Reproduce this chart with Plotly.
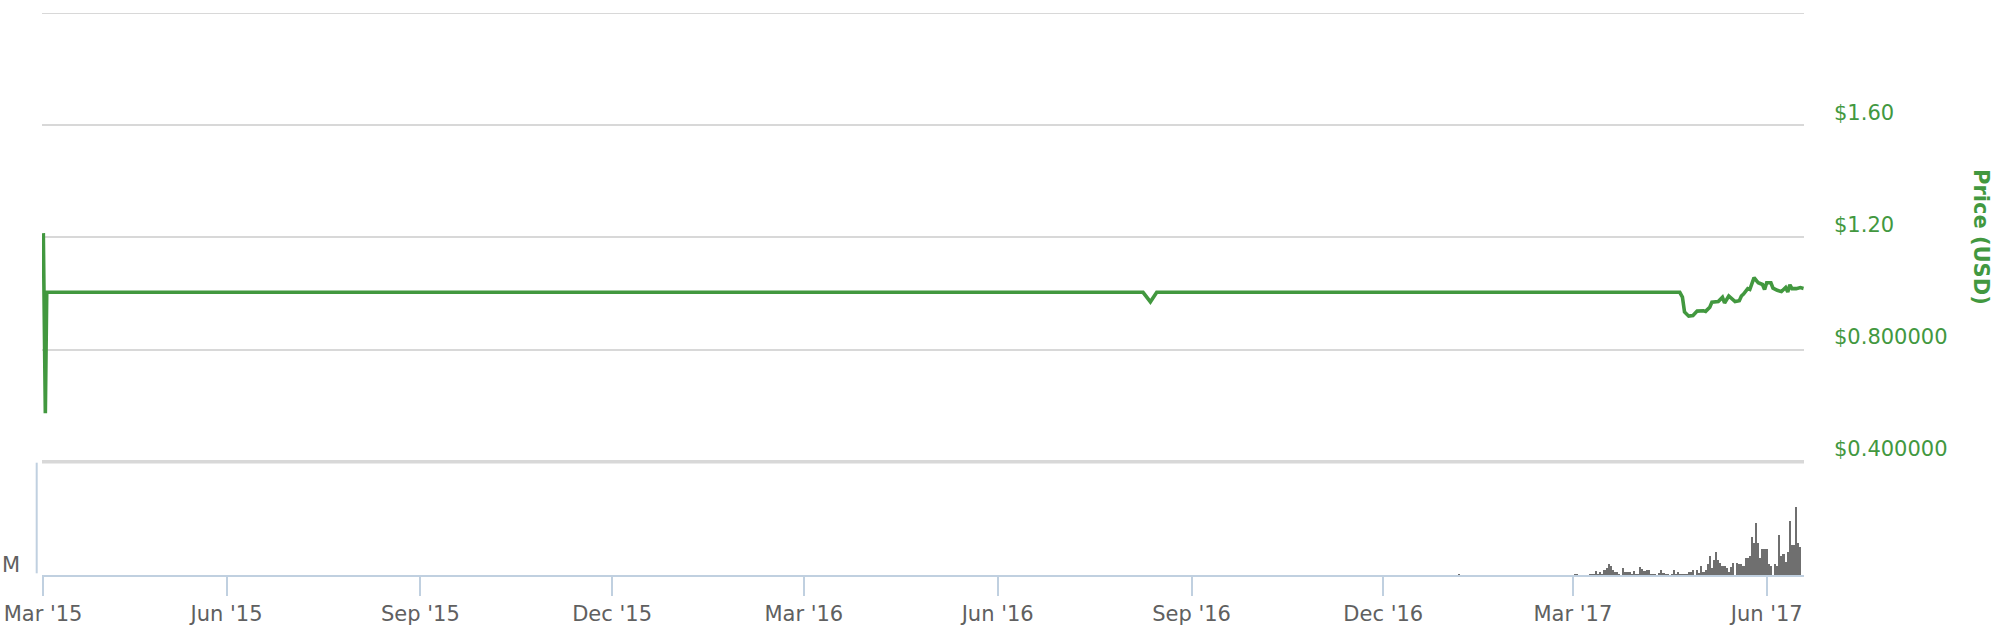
import plotly.graph_objects as go
import pandas as pd

# ---------------- data ----------------
price_dates = [
    "2015-03-06 01:00", "2015-03-07 00:00", "2015-03-07 16:00",
    "2016-08-09 00:00", "2016-08-12 12:00", "2016-08-15 12:00",
    "2017-04-20 18:00", "2017-04-22", "2017-04-23", "2017-04-25", "2017-04-27",
    "2017-04-29", "2017-05-02", "2017-05-03", "2017-05-05", "2017-05-06",
    "2017-05-09", "2017-05-11", "2017-05-12", "2017-05-14", "2017-05-17",
    "2017-05-19", "2017-05-20", "2017-05-21", "2017-05-23", "2017-05-24",
    "2017-05-26", "2017-05-28", "2017-05-30", "2017-05-31", "2017-06-01",
    "2017-06-03", "2017-06-04", "2017-06-06", "2017-06-08", "2017-06-10",
    "2017-06-11", "2017-06-12", "2017-06-13", "2017-06-15", "2017-06-17",
    "2017-06-18 12:00",
]
price_usd = [
    1.215, 0.573, 1.004,
    1.004, 0.970, 1.004,
    1.004, 0.987, 0.934, 0.919, 0.921,
    0.937, 0.938, 0.936, 0.951, 0.969,
    0.971, 0.986, 0.966, 0.991, 0.971,
    0.974, 0.991, 0.998, 1.017, 1.014,
    1.056, 1.038, 1.032, 1.014, 1.038,
    1.038, 1.019, 1.011, 1.007, 1.021,
    1.005, 1.031, 1.017, 1.017, 1.021,
    1.018,
]

# volume (millions USD): one tiny bar in Jan 2017, then daily from 1 Mar 2017
vol_jan_dates = ["2017-01-06"]
vol_jan_values = [2.6]
vol_daily_start = "2017-03-01"
vol_daily_values = [
    # March 2017
    0, 2.6, 2.6, 0, 0, 0, 0, 0, 2.6, 2.6, 2.6, 9.4, 2.6, 7.4, 2.6, 10.6,
    14, 22, 18, 10, 7.4, 7.4, 2.6, 0, 14, 7.4, 7.4, 7.4, 2.6, 9.4, 2.6,
    # April 2017
    2.6, 16, 12.6, 8.6, 11.4, 11.4, 2.6, 2.6, 2.6, 0, 4, 10, 5.4, 2.6, 2.6,
    0, 2.6, 10.6, 2.6, 6.6, 2.6, 2.6, 2.6, 2.6, 6.6, 6.6, 10, 0, 10, 4,
    # May 2017
    18.6, 7.4, 10.6, 22, 38.6, 14, 30.6, 46.6, 30.6, 23.4, 18.6, 18.6, 14,
    7.4, 17.4, 23.4, 0, 24, 22.6, 22.6, 18.6, 34.6, 34.6, 38.6, 75.4, 63.4,
    103.4, 63.4, 34.6, 51.4, 51.4,
    # June 2017
    51.4, 22.6, 18.6, 0, 22.6, 18.6, 79.4, 38.6, 42.6, 26.6, 46.6, 107.4,
    59.4, 59.4, 135.4, 63.4, 55.4,
]
vol_dates = vol_jan_dates + list(
    pd.date_range(vol_daily_start, periods=len(vol_daily_values), freq="D").strftime("%Y-%m-%d")
)
vol_values = vol_jan_values + vol_daily_values

x_tick_vals = ["2015-03-05 22:00", "2015-06-01", "2015-09-01", "2015-12-01",
               "2016-03-01", "2016-06-01", "2016-09-01", "2016-12-01",
               "2017-03-01", "2017-06-01"]
x_tick_text = ["Mar '15", "Jun '15", "Sep '15", "Dec '15", "Mar '16", "Jun '16",
               "Sep '16", "Dec '16", "Mar '17", "Jun '17"]
price_tick_vals = [0.4, 0.8, 1.2, 1.6, 2.0]
price_tick_text = ["$0.400000", "$0.800000", "$1.20", "$1.60", ""]

# ---------------- style ----------------
GREEN = "#42983f"
AXIS = "#c0d0e0"
GRID = "#d8d8d8"
TXT = "#606060"
FONT = "DejaVu Sans"
FS = 21

W, H = 2008, 626
# plot area in page pixels: x 42..1804, y 13..575
ML, MT = 42, 13
MR = W - 1804
MB = H - 575
PW, PH = W - ML - MR, H - MT - MB


def px_x(px):  # page pixel -> paper x
    return (px - ML) / PW


def px_y(py):  # page pixel -> paper y
    return (H - MB - py) / PH


split = px_y(461.7)  # price/volume boundary

fig = go.Figure()
fig.add_trace(go.Bar(
    x=vol_dates, y=vol_values, xaxis="x", yaxis="y2",
    marker=dict(color="#6f6f6f", line=dict(width=0)),
    name="Volume", hoverinfo="x+y",
))
fig.add_trace(go.Scatter(
    x=price_dates, y=price_usd, xaxis="x", yaxis="y",
    mode="lines", line=dict(color=GREEN, width=3.6),
    name="Price (USD)",
))

fig.update_layout(
    width=W, height=H,
    margin=dict(l=ML, r=MR, t=MT, b=MB, autoexpand=False),
    paper_bgcolor="white", plot_bgcolor="white",
    showlegend=False, bargap=0,
    font=dict(family=FONT, color=TXT, size=FS),
    xaxis=dict(
        type="date", anchor="y2", automargin=False,
        range=["2015-03-05 10:00", "2017-06-18 17:00"],
        tickmode="array", tickvals=x_tick_vals, ticktext=x_tick_text,
        showgrid=False, zeroline=False,
        showline=True, linecolor=AXIS, linewidth=2,
        ticks="outside", ticklen=19, tickwidth=2, tickcolor=AXIS,
        tickfont=dict(family=FONT, size=FS, color=TXT),
    ),
    yaxis=dict(
        domain=[split, 1], range=[0.4, 2.0], side="right", automargin=False,
        tickmode="array", tickvals=price_tick_vals, ticktext=price_tick_text,
        showgrid=True, gridcolor=GRID, gridwidth=2,
        zeroline=False, showline=False, ticks="",
        ticklabelstandoff=29, ticklabelshift=-13,
        tickfont=dict(family=FONT, size=FS, color=GREEN),
    ),
    yaxis2=dict(
        domain=[0, split], range=[0, 224], automargin=False,
        showgrid=False, zeroline=False, showline=False,
        showticklabels=False, ticks="",
    ),
    shapes=[
        dict(type="line", xref="paper", yref="y",
             x0=0, x1=1, y0=2.0, y1=2.0,
             line=dict(color=GRID, width=2), layer="below"),
        dict(type="line", xref="paper", yref="paper",
             x0=0, x1=1, y0=split, y1=split,
             line=dict(color=GRID, width=3.5), layer="below"),
        dict(type="line", xref="paper", yref="paper",
             x0=px_x(36.7), x1=px_x(36.7), y0=px_y(573.3), y1=px_y(462.7),
             line=dict(color=AXIS, width=2)),
    ],
    annotations=[
        dict(text="Price (USD)", xref="paper", yref="paper",
             x=px_x(1981), y=px_y(237), textangle=90, showarrow=False,
             xanchor="center", yanchor="middle",
             font=dict(family=FONT, size=FS, color=GREEN, weight="bold")),
        dict(text="M", xref="paper", yref="paper",
             x=px_x(0), y=px_y(565), xanchor="left", yanchor="middle",
             showarrow=False, font=dict(family=FONT, size=FS, color=TXT)),
    ],
)

fig.write_html(
    "out.html",
    config={"displayModeBar": False},
    post_script="document.body.style.margin='0px';document.body.style.overflow='hidden';",
)
